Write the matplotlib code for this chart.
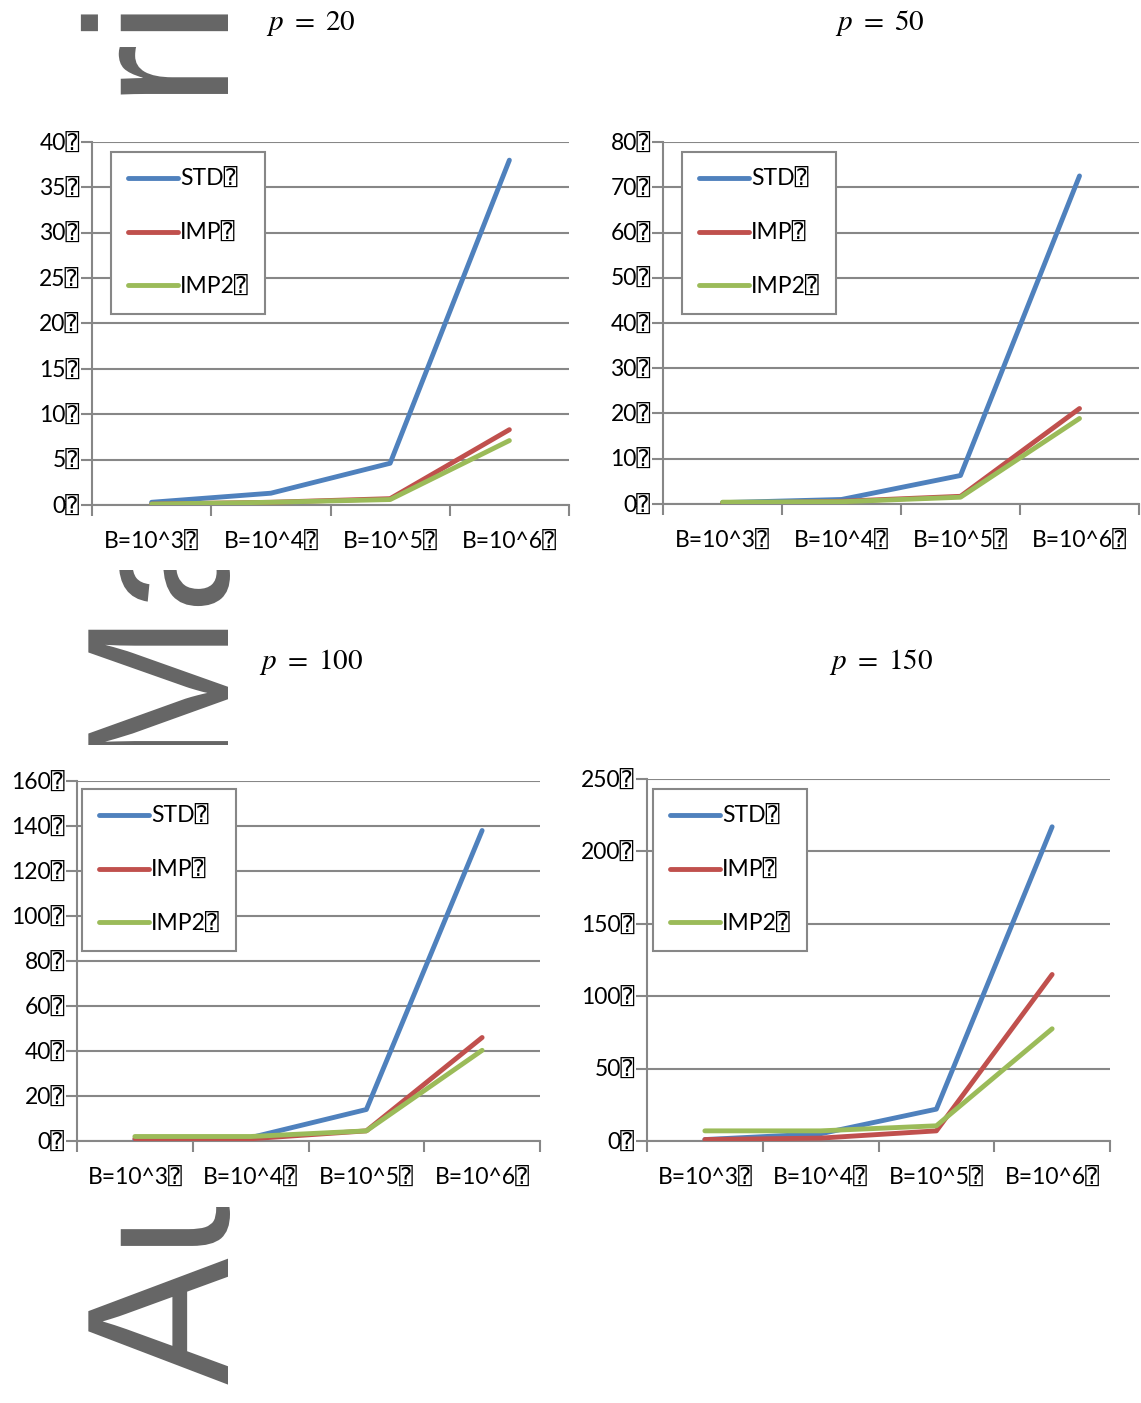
import matplotlib
matplotlib.use('Agg')
import numpy as np
from matplotlib import pyplot as plt
from matplotlib.font_manager import FontProperties
from matplotlib.textpath import TextPath
from matplotlib.patches import PathPatch, Rectangle
from matplotlib.transforms import Affine2D

plt.rcParams['mathtext.fontset'] = 'stix'

# data
cats = ['B=10^3\u2370', 'B=10^4\u2370', 'B=10^5\u2370', 'B=10^6\u2370']
series_names = ['STD\u2370', 'IMP\u2370', 'IMP2\u2370']
colors = ['#4F81BD', '#C0504D', '#9BBB59']

std_20 = [0.3, 1.3, 4.6, 38.0]
imp_20 = [0.1, 0.3, 0.7, 8.3]
imp2_20 = [0.1, 0.3, 0.6, 7.1]

std_50 = [0.3, 1.0, 6.3, 72.5]
imp_50 = [0.1, 0.6, 1.7, 21.1]
imp2_50 = [0.4, 0.5, 1.5, 18.9]

std_100 = [0.5, 1.5, 14.0, 138.0]
imp_100 = [1.0, 1.0, 4.5, 46.0]
imp2_100 = [2.0, 2.0, 4.5, 40.3]

std_150 = [1.0, 5.0, 22.0, 217.0]
imp_150 = [1.0, 2.0, 7.0, 115.0]
imp2_150 = [7.0, 7.0, 10.5, 77.5]

W, H = 1141, 1403
fig = plt.figure(figsize=(W / 100, H / 100), dpi=100)
fig.patch.set_facecolor('white')

tick_font = ['Lato', 'DejaVu Sans', 'DejaVu Sans Mono']
fs = 16.5
grid_c = '#878787'


def px_box(l, r, t, b):
    return [l / W, 1 - b / H, (r - l) / W, (b - t) / H]


# watermark behind the charts
fp = FontProperties(family='Liberation Sans')
tp = TextPath((0, 0), 'Author Manuscript', size=1, prop=fp)
tr = Affine2D().scale(190, 203).rotate_deg(90).translate(228, H - 1385) \
    .scale(1 / 100) + fig.dpi_scale_trans
wm = PathPatch(tp, transform=tr, facecolor='#666666', edgecolor='none', zorder=-3)
fig.add_artist(wm)
for (y0, y1) in [(104, 570), (745, 1207)]:
    fig.add_artist(Rectangle((0, 1 - y1 / H), 585 / W, (y1 - y0) / H,
                             transform=fig.transFigure, facecolor='white',
                             edgecolor='none', zorder=-2))

panels = [
    ((92, 569, 142, 505), 'p = 20', 40, 5, [std_20, imp_20, imp2_20], (111, 152), (311, 23)),
    ((663, 1139, 142, 504), 'p = 50', 80, 10, [std_50, imp_50, imp2_50], (682, 152), (880, 23)),
    ((77, 540, 781, 1141), 'p = 100', 160, 20, [std_100, imp_100, imp2_100], (82, 789), (311, 662)),
    ((647, 1110, 779, 1141), 'p = 150', 250, 50, [std_150, imp_150, imp2_150], (653, 789), (881, 662)),
]

for box, title, ymax, step, data, leg_xy, title_xy in panels:
    ax = fig.add_axes(px_box(*box))
    ax.set_facecolor('white')
    x = np.arange(len(cats))
    for vals, name, c in zip(data, series_names, colors):
        ax.plot(x, vals, color=c, lw=3.5, label=name, solid_capstyle='round', zorder=3)
    ax.set_xlim(-0.5, len(cats) - 0.5)
    ax.set_ylim(0, ymax)
    yt = np.arange(0, ymax + 1, step)
    ax.set_yticks(yt)
    ax.set_yticklabels(['%d\u2370' % v for v in yt], fontsize=fs, family=tick_font)
    ax.set_xticks(np.arange(-0.5, len(cats), 1.0))
    ax.set_xticklabels([])
    ax.set_xticks(x, minor=True)
    ax.set_xticklabels(cats, minor=True, fontsize=fs, family=tick_font)
    ax.tick_params(axis='x', which='major', length=8, width=1.5, color=grid_c, direction='out')
    ax.tick_params(axis='x', which='minor', length=0, pad=19)
    ax.tick_params(axis='y', length=8, width=1.5, color=grid_c, pad=1)
    ax.yaxis.grid(True, color=grid_c, lw=1.5)
    ax.set_axisbelow(True)
    for s in ['top', 'right']:
        ax.spines[s].set_visible(False)
    for s in ['left', 'bottom']:
        ax.spines[s].set_color(grid_c)
        ax.spines[s].set_linewidth(1.5)
    leg = ax.legend(loc='upper left', bbox_to_anchor=(leg_xy[0] / W, 1 - leg_xy[1] / H),
                    bbox_transform=fig.transFigure, borderaxespad=0,
                    prop=FontProperties(family=tick_font, size=fs),
                    handlelength=2.2, handletextpad=0.1, labelspacing=1.43,
                    borderpad=0.72, fancybox=False, framealpha=1)
    leg.get_frame().set_edgecolor(grid_c)
    leg.get_frame().set_linewidth(1.5)
    pval = title.split('=')[1].strip()
    fig.text(title_xy[0] / W, 1 - title_xy[1] / H, r'$p\ =\ %s$' % pval,
             fontsize=21, ha='center', va='center')

fig.savefig('out.png', dpi=100)
